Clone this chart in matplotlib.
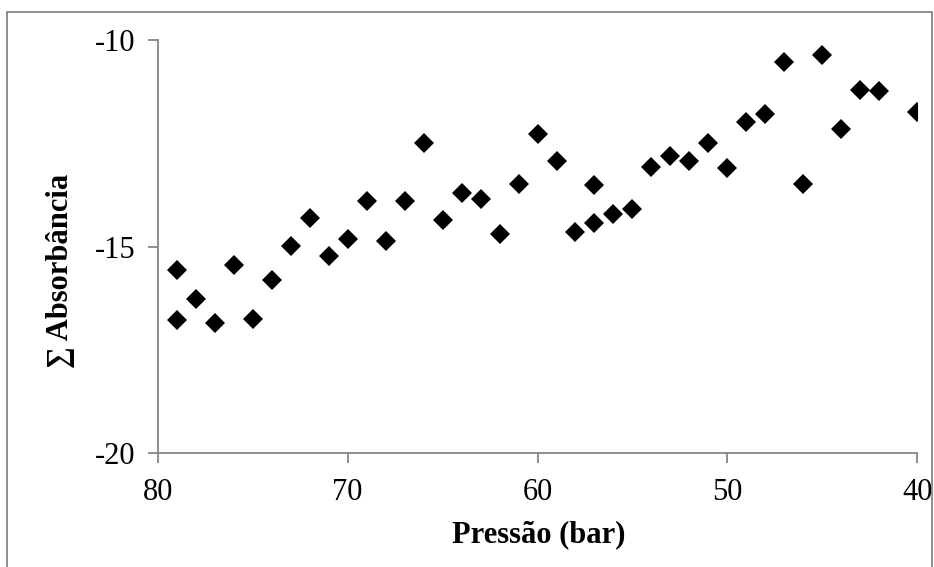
import matplotlib.pyplot as plt
from matplotlib.patches import Rectangle

# Pressure (bar) and summed absorbance
pressao = [79, 79, 78, 77, 76, 75, 74, 73, 72, 71, 70, 69, 68, 67, 66, 65,
           64, 63, 62, 61, 60, 59, 58, 57, 57, 56, 55, 54, 53, 52, 51, 50,
           49, 48, 47, 46, 45, 44, 43, 42, 40]
absorbancia = [-15.57, -16.78, -16.27, -16.86, -15.45, -16.76, -15.81, -14.98,
               -14.30, -15.22, -14.83, -13.91, -14.86, -13.91, -12.49, -14.36,
               -13.71, -13.86, -14.70, -13.48, -12.28, -12.94, -14.66, -13.51,
               -14.44, -14.21, -14.10, -13.07, -12.81, -12.94, -12.50, -13.10,
               -11.99, -11.79, -10.53, -13.49, -10.37, -12.15, -11.21, -11.23,
               -11.74]
x_ticks = [80, 70, 60, 50, 40]
y_ticks = [-20, -15, -10]

plt.rcParams['font.family'] = ['Liberation Serif', 'DejaVu Serif']
plt.rcParams['axes.unicode_minus'] = False

fig = plt.figure(figsize=(9.34, 5.67), dpi=100)
ax = fig.add_axes([0.169, 0.201, 0.813, 0.7285])

ax.plot(pressao, absorbancia, linestyle='none', marker='D', markersize=10,
        color='black', markeredgewidth=0)

ax.set_xlim(80, 40)
ax.set_ylim(-20, -10)
ax.set_xticks(x_ticks)
ax.set_yticks(y_ticks)

grey = '#868686'
for s in ['top', 'right']:
    ax.spines[s].set_visible(False)
for s in ['left', 'bottom']:
    ax.spines[s].set_color(grey)
    ax.spines[s].set_linewidth(1.3)
ax.tick_params(axis='both', direction='out', length=7, width=1.3, color=grey,
               labelsize=22, labelcolor='black')
ax.tick_params(axis='x', pad=11)
ax.tick_params(axis='y', pad=9)

ax.set_xlabel('Pressão (bar)', fontsize=22, fontweight='bold')
ax.set_ylabel('∑ Absorbância', fontsize=22, fontweight='bold')
ax.xaxis.set_label_coords(0.502, -0.1985)
ax.yaxis.set_label_coords(-0.129, 0.44)
ax.xaxis.label.set_va('center')
ax.yaxis.label.set_va('center')

# grey frame around the whole chart
fig.patches.append(Rectangle((7 / 934, -0.01), 925 / 934, 1 - 12 / 567 + 0.01,
                             transform=fig.transFigure, fill=False,
                             edgecolor=grey, linewidth=1.3))

fig.savefig('out.png', dpi=100)
